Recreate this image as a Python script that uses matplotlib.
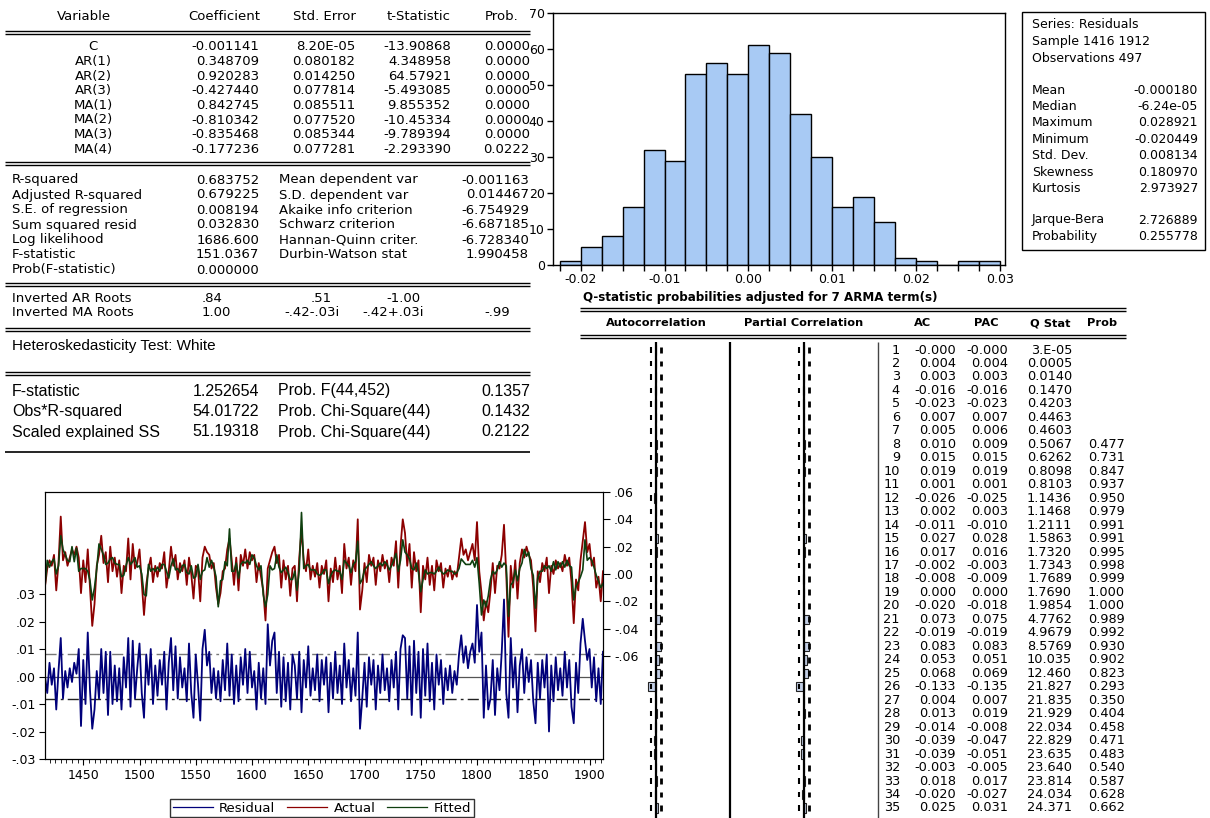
import matplotlib
matplotlib.use("Agg")
import matplotlib.pyplot as plt
import numpy as np
from matplotlib import font_manager
from matplotlib.lines import Line2D
from matplotlib.patches import Rectangle
from matplotlib.ticker import FixedFormatter, FixedLocator, FuncFormatter, MultipleLocator

# ---- ARMA estimation output ----
variables = ["C", "AR(1)", "AR(2)", "AR(3)", "MA(1)", "MA(2)", "MA(3)", "MA(4)"]
coefficients = ["-0.001141", "0.348709", "0.920283", "-0.427440", "0.842745", "-0.810342", "-0.835468", "-0.177236"]
std_errors = ["8.20E-05", "0.080182", "0.014250", "0.077814", "0.085511", "0.077520", "0.085344", "0.077281"]
t_stats = ["-13.90868", "4.348958", "64.57921", "-5.493085", "9.855352", "-10.45334", "-9.789394", "-2.293390"]
coef_probs = ["0.0000", "0.0000", "0.0000", "0.0000", "0.0000", "0.0000", "0.0000", "0.0222"]

fit_labels = ["R-squared", "Adjusted R-squared", "S.E. of regression", "Sum squared resid",
              "Log likelihood", "F-statistic", "Prob(F-statistic)"]
fit_values = ["0.683752", "0.679225", "0.008194", "0.032830", "1686.600", "151.0367", "0.000000"]
dep_labels = ["Mean dependent var", "S.D. dependent var", "Akaike info criterion", "Schwarz criterion",
              "Hannan-Quinn criter.", "Durbin-Watson stat"]
dep_values = ["-0.001163", "0.014467", "-6.754929", "-6.687185", "-6.728340", "1.990458"]
ar_roots = [".84", ".51", "-1.00"]
ma_roots = ["1.00", "-.42-.03i", "-.42+.03i", "-.99"]

# ---- White heteroskedasticity test ----
white_labels = ["F-statistic", "Obs*R-squared", "Scaled explained SS"]
white_values = ["1.252654", "54.01722", "51.19318"]
white_tests = ["Prob. F(44,452)", "Prob. Chi-Square(44)", "Prob. Chi-Square(44)"]
white_probs = ["0.1357", "0.1432", "0.2122"]

# ---- residual histogram ----
bin_left = [-0.0225, -0.02, -0.0175, -0.015, -0.0125, -0.01, -0.0075, -0.005, -0.0025, 0.0, 0.0025,
            0.005, 0.0075, 0.01, 0.0125, 0.015, 0.0175, 0.02, 0.0225, 0.025, 0.0275]
bin_counts = [1, 5, 8, 16, 32, 29, 53, 56, 53, 61, 59, 42, 30, 16, 19, 12, 2, 1, 0, 1, 1]
bin_width = 0.0025
hist_ticks = [-0.02, -0.01, 0.0, 0.01, 0.02, 0.03]
hist_tick_labels = ["-0.02", "-0.01", "0.00", "0.01", "0.02", "0.03"]
stat_labels = ["Mean", "Median", "Maximum", "Minimum", "Std. Dev.", "Skewness", "Kurtosis"]
stat_values = ["-0.000180", "-6.24e-05", "0.028921", "-0.020449", "0.008134", "0.180970", "2.973927"]
jb_labels = ["Jarque-Bera", "Probability"]
jb_values = ["2.726889", "0.255778"]

# ---- residual correlogram ----
n_obs = 497
lags = list(range(1, 36))
ac = [-0.0, 0.004, 0.003, -0.016, -0.023, 0.007, 0.005, 0.010, 0.015, 0.019, 0.001, -0.026, 0.002,
      -0.011, 0.027, 0.017, -0.002, -0.008, 0.000, -0.020, 0.073, -0.019, 0.083, 0.053, 0.068,
      -0.133, 0.004, 0.013, -0.014, -0.039, -0.039, -0.003, 0.018, -0.020, 0.025]
pac = [-0.0, 0.004, 0.003, -0.016, -0.023, 0.007, 0.006, 0.009, 0.015, 0.019, 0.001, -0.025, 0.003,
       -0.010, 0.028, 0.016, -0.003, -0.009, 0.000, -0.018, 0.075, -0.019, 0.083, 0.051, 0.069,
       -0.135, 0.007, 0.019, -0.008, -0.047, -0.051, -0.005, 0.017, -0.027, 0.031]
q_stat = ["3.E-05", "0.0005", "0.0140", "0.1470", "0.4203", "0.4463", "0.4603", "0.5067", "0.6262",
          "0.8098", "0.8103", "1.1436", "1.1468", "1.2111", "1.5863", "1.7320", "1.7343", "1.7689",
          "1.7690", "1.9854", "4.7762", "4.9679", "8.5769", "10.035", "12.460", "21.827", "21.835",
          "21.929", "22.034", "22.829", "23.635", "23.640", "23.814", "24.034", "24.371"]
q_prob = ["", "", "", "", "", "", "", "0.477", "0.731", "0.847", "0.937", "0.950", "0.979", "0.991",
          "0.991", "0.995", "0.998", "0.999", "1.000", "1.000", "0.989", "0.992", "0.930", "0.902",
          "0.823", "0.293", "0.350", "0.404", "0.458", "0.471", "0.483", "0.540", "0.587", "0.628",
          "0.662"]

# ---- actual / fitted / residual, every second year 1416-1912 ----
years = list(range(1416, 1913, 2))
residual = [
    0.000, -0.006, 0.005, -0.003, 0.003, -0.012, 0.002, 0.014, -0.008, 0.002,
    -0.004, 0.003, -0.002, 0.005, 0.001, 0.010, -0.018, 0.006, -0.010, 0.016,
    -0.005, -0.019, -0.012, 0.002, -0.008, 0.010, -0.006, 0.009, -0.014, 0.009,
    -0.010, 0.004, -0.009, 0.003, -0.012, 0.007, -0.004, 0.014, -0.011, 0.013,
    -0.008, 0.003, 0.012, -0.006, -0.015, 0.008, -0.003, 0.010, -0.010, 0.004,
    -0.007, 0.006, -0.003, 0.009, -0.012, 0.005, 0.014, -0.005, 0.011, -0.008,
    0.007, -0.004, 0.003, -0.009, 0.012, -0.006, -0.015, 0.008, -0.003, -0.016,
    0.010, 0.017, 0.004, 0.009, -0.006, 0.003, -0.008, 0.002, -0.009, 0.006,
    -0.005, 0.012, -0.007, 0.008, -0.010, 0.004, -0.009, 0.007, -0.003, 0.010,
    -0.006, 0.009, -0.004, 0.002, -0.012, 0.005, -0.008, 0.003, -0.010, 0.019,
    0.004, 0.013, 0.016, -0.006, 0.009, -0.011, 0.007, -0.009, 0.005, -0.012,
    0.008, 0.004, -0.008, 0.009, -0.013, 0.006, -0.004, 0.011, -0.007, 0.003,
    -0.005, 0.008, -0.009, 0.006, -0.003, 0.007, -0.013, 0.005, -0.008, 0.009,
    -0.006, 0.004, -0.010, 0.012, -0.004, 0.006, -0.009, 0.003, -0.007, 0.016,
    -0.019, -0.008, 0.005, -0.011, 0.007, -0.003, 0.006, -0.012, 0.004, -0.006,
    0.008, -0.005, 0.003, -0.009, 0.006, -0.004, 0.009, -0.012, 0.010, 0.015,
    0.014, -0.008, 0.011, -0.014, 0.013, -0.006, 0.009, -0.015, 0.010, -0.007,
    0.012, -0.009, 0.005, -0.012, 0.008, -0.003, 0.006, -0.010, 0.003, -0.005,
    0.004, -0.006, 0.002, -0.003, 0.008, 0.015, 0.005, 0.011, 0.003, 0.009,
    0.012, 0.005, 0.026, 0.009, 0.016, -0.015, 0.004, -0.012, -0.008, 0.006,
    -0.014, 0.003, -0.005, 0.009, 0.028, -0.006, -0.015, 0.014, -0.004, 0.007,
    -0.013, 0.004, 0.010, -0.006, 0.007, -0.002, 0.006, -0.009, -0.017, 0.005,
    -0.008, 0.006, -0.004, 0.008, -0.020, 0.004, -0.009, 0.007, -0.005, 0.003,
    -0.007, 0.009, -0.004, 0.006, -0.011, -0.017, 0.005, -0.006, 0.012, 0.021,
    0.013, 0.006, 0.010, -0.004, 0.007, -0.009, 0.003, -0.010, 0.009,
]
actual = [
    -0.009, 0.004, 0.010, 0.006, 0.014, -0.012, 0.008, 0.042, 0.010, 0.016,
    0.006, 0.012, 0.018, 0.014, 0.020, 0.012, -0.014, 0.010, -0.006, 0.018,
    -0.010, -0.038, -0.022, 0.006, 0.014, 0.028, 0.008, 0.016, -0.006, 0.020,
    0.002, 0.012, -0.002, 0.010, -0.014, 0.006, 0.002, 0.026, -0.004, 0.022,
    0.004, 0.008, 0.018, -0.006, -0.030, -0.008, 0.004, 0.012, -0.006, 0.006,
    -0.002, 0.008, 0.004, 0.016, -0.010, 0.002, 0.020, 0.006, 0.014, -0.004,
    0.008, 0.002, 0.010, -0.008, 0.012, 0.000, -0.018, 0.006, 0.004, -0.020,
    0.012, 0.020, 0.016, 0.014, 0.004, 0.008, -0.010, -0.022, -0.014, 0.002,
    0.004, 0.018, 0.026, 0.010, -0.008, 0.012, -0.012, 0.014, 0.006, 0.018,
    0.004, 0.016, 0.010, 0.014, -0.006, 0.008, -0.002, -0.012, -0.034, 0.004,
    0.010, 0.016, 0.020, 0.008, 0.014, -0.010, 0.010, -0.004, 0.006, -0.016,
    0.004, 0.006, -0.020, 0.012, 0.032, 0.010, 0.002, 0.018, -0.004, 0.006,
    -0.002, 0.008, -0.010, 0.006, 0.000, 0.010, -0.020, 0.004, -0.006, 0.012,
    -0.004, 0.006, -0.014, 0.022, 0.004, 0.012, -0.008, 0.010, 0.002, 0.040,
    -0.026, -0.012, 0.008, -0.006, 0.014, 0.006, 0.012, -0.008, 0.010, 0.002,
    0.014, 0.004, 0.010, -0.006, 0.012, 0.006, 0.024, -0.010, 0.020, 0.040,
    0.030, 0.006, 0.022, -0.010, 0.016, 0.002, 0.010, -0.028, 0.006, -0.004,
    0.012, -0.008, 0.006, -0.012, 0.010, 0.002, 0.008, -0.010, 0.004, -0.002,
    0.006, -0.004, 0.002, -0.002, 0.012, 0.026, 0.014, 0.018, 0.010, 0.016,
    0.022, 0.010, 0.038, 0.002, -0.014, -0.034, -0.020, -0.028, -0.012, 0.008,
    -0.014, 0.006, 0.004, 0.014, 0.036, 0.000, -0.046, 0.006, -0.010, 0.010,
    -0.018, 0.008, 0.018, 0.012, 0.020, 0.014, 0.010, -0.010, -0.042, 0.002,
    -0.006, 0.008, 0.002, 0.012, -0.014, 0.006, 0.000, 0.010, 0.004, 0.008,
    0.002, 0.014, 0.006, 0.012, -0.006, -0.036, -0.004, -0.012, 0.010, 0.024,
    0.038, 0.016, 0.022, 0.006, 0.012, -0.010, -0.002, -0.020, 0.002,
]

W, H = 1210, 818
installed = {f.name for f in font_manager.fontManager.ttflist}
NARROW = "Liberation Sans Narrow" if "Liberation Sans Narrow" in installed else "Liberation Sans"
TXT = "#000000"


def px_axes(fig, left, top, right, bottom):
    """Axes placed by pixel box (origin top-left)."""
    return fig.add_axes([left / W, 1 - bottom / H, (right - left) / W, (bottom - top) / H])


def double_line(ax, y, x0=5, x1=530):
    ax.hlines([y, y + 3], x0, x1, color="black", lw=1.0)


def draw_tables(ax):
    fs = 9.5
    # coefficient table
    for label, x in zip(["Variable", "Coefficient", "Std. Error", "t-Statistic", "Prob."],
                        [84, 224, 324, 419, 502]):
        ax.text(x, 17, label, ha="center", va="center", fontsize=fs, color=TXT)
    double_line(ax, 31)
    for i, name in enumerate(variables):
        y = 47 + 14.6 * i
        ax.text(93, y, name, ha="center", va="center", fontsize=fs, color=TXT)
        for col, x in zip([coefficients, std_errors, t_stats, coef_probs], [259, 355, 451, 530]):
            ax.text(x, y, col[i], ha="right", va="center", fontsize=fs, color=TXT)
    double_line(ax, 162)

    for i, (label, val) in enumerate(zip(fit_labels, fit_values)):
        y = 180 + 15 * i
        ax.text(12, y, label, ha="left", va="center", fontsize=fs, color=TXT)
        ax.text(259, y, val, ha="right", va="center", fontsize=fs, color=TXT)
    for i, (label, val) in enumerate(zip(dep_labels, dep_values)):
        y = 180 + 15 * i
        ax.text(279, y, label, ha="left", va="center", fontsize=fs, color=TXT)
        ax.text(529, y, val, ha="right", va="center", fontsize=fs, color=TXT)
    double_line(ax, 283)

    ax.text(12, 298, "Inverted AR Roots", ha="left", va="center", fontsize=fs, color=TXT)
    ax.text(12, 313, "Inverted MA Roots", ha="left", va="center", fontsize=fs, color=TXT)
    ax.text(202, 298, ar_roots[0], ha="left", va="center", fontsize=fs, color=TXT)
    for root, x in zip(ar_roots[1:], [321, 403]):
        ax.text(x, 298, root, ha="center", va="center", fontsize=fs, color=TXT)
    ax.text(202, 313, ma_roots[0], ha="left", va="center", fontsize=fs, color=TXT)
    for root, x in zip(ma_roots[1:], [312, 393, 497]):
        ax.text(x, 313, root, ha="center", va="center", fontsize=fs, color=TXT)
    double_line(ax, 328)

    # White test
    ax.text(12, 346, "Heteroskedasticity Test: White", ha="left", va="center",
            fontsize=11, family=NARROW, color=TXT)
    double_line(ax, 372)
    for i in range(3):
        y = 391 + 20.5 * i
        kw = dict(va="center", fontsize=11.5, family=NARROW, color=TXT)
        ax.text(12, y, white_labels[i], ha="left", **kw)
        ax.text(259, y, white_values[i], ha="right", **kw)
        ax.text(278, y, white_tests[i], ha="left", **kw)
        ax.text(530, y, white_probs[i], ha="right", **kw)
    ax.hlines(452, 5, 530, color="black", lw=1.2)


def draw_histogram(fig, ax):
    hx = px_axes(fig, 553, 13, 1005, 265)
    hx.bar(bin_left, bin_counts, width=bin_width, align="edge",
           color="#a8caf4", edgecolor="black", linewidth=1.0)
    hx.set_xlim(-0.0233, 0.0306)
    hx.set_ylim(0, 70)
    hx.xaxis.set_major_locator(FixedLocator(hist_ticks))
    hx.xaxis.set_major_formatter(FixedFormatter(hist_tick_labels))
    hx.xaxis.set_minor_locator(MultipleLocator(bin_width))
    hx.yaxis.set_major_locator(MultipleLocator(10))
    hx.tick_params(direction="out", length=4, width=1, labelsize=9, pad=2)
    hx.tick_params(which="minor", direction="out", length=4, width=1)
    for s in hx.spines.values():
        s.set_linewidth(1.0)

    # descriptive statistics box
    ax.add_patch(Rectangle((1022, 12), 183, 238, fill=False, edgecolor="black", lw=1.0))
    fs = 9
    for i, line in enumerate(["Series: Residuals", "Sample 1416 1912", f"Observations {n_obs}"]):
        ax.text(1032, 25 + 17 * i, line, ha="left", va="center", fontsize=fs, color=TXT)
    for i, (label, val) in enumerate(zip(stat_labels, stat_values)):
        y = 90 + 16.4 * i
        ax.text(1032, y, label, ha="left", va="center", fontsize=fs, color=TXT)
        ax.text(1198, y, val, ha="right", va="center", fontsize=fs, color=TXT)
    for i, (label, val) in enumerate(zip(jb_labels, jb_values)):
        y = 220 + 16.4 * i
        ax.text(1032, y, label, ha="left", va="center", fontsize=fs, color=TXT)
        ax.text(1198, y, val, ha="right", va="center", fontsize=fs, color=TXT)


def draw_correlogram(fig, ax):
    fs = 9.3
    ax.text(583, 297, "Q-statistic probabilities adjusted for 7 ARMA term(s)",
            ha="left", va="center", fontsize=8.6, fontweight="bold", color=TXT)
    double_line(ax, 308, 580, 1126)
    for label, x in zip(["Autocorrelation", "Partial Correlation", "AC", "PAC", "Q Stat", "Prob"],
                        [656, 804, 922, 986, 1050, 1102]):
        ax.text(x, 323, label, ha="center", va="center", fontsize=8.2, fontweight="bold", color=TXT)
    double_line(ax, 335, 580, 1126)

    row_y = [350 + 13.47 * (k - 1) for k in lags]
    for i, y in enumerate(row_y):
        ax.text(900, y, str(lags[i]), ha="right", va="center", fontsize=fs, color=TXT)
        ax.text(956, y, f"{ac[i]:.3f}", ha="right", va="center", fontsize=fs, color=TXT)
        ax.text(1008, y, f"{pac[i]:.3f}", ha="right", va="center", fontsize=fs, color=TXT)
        ax.text(1072, y, q_stat[i], ha="right", va="center", fontsize=fs, color=TXT)
        ax.text(1125, y, q_prob[i], ha="right", va="center", fontsize=fs, color=TXT)

    ax.vlines(730, 342, 818, color="black", lw=1.6)
    ax.vlines(878, 342, 818, color="#444444", lw=1.0)

    # bar columns, 60 px per unit of correlation
    bound = 2 / np.sqrt(n_obs)
    k_top = 1 + (342 - 350) / 13.47
    k_bot = 1 + (818 - 350) / 13.47
    lag_arr = np.array(lags)
    for center, vals in [(656, ac), (804, pac)]:
        cx = px_axes(fig, center - 60, 342, center + 60, 818)
        cx.set_xlim(-1, 1)
        cx.set_ylim(k_bot, k_top)
        cx.axis("off")
        cx.barh(lags, vals, height=0.7, color="#c3cfe6", edgecolor="#222222", linewidth=0.8, zorder=2)
        cx.axvline(0, color="black", lw=1.6, zorder=3)
        cx.vlines([-bound] * len(lags), lag_arr - 0.2, lag_arr + 0.2, color="black", lw=1.5)
        cx.vlines([bound] * len(lags), lag_arr - 0.22, lag_arr + 0.22, color="black", lw=2.0)


def dot_fmt(v, pos):
    s = f"{v:.2f}"
    if s == "-0.00":
        s = "0.00"
    return s.replace("0.", ".")


def draw_series(fig):
    yrs = np.array(years)
    res = np.array(residual)
    act = np.array(actual)
    fitted = act - res
    se = float(fit_values[2])

    ax = px_axes(fig, 45, 492, 603, 759)
    ax.axhline(0, color="#555555", lw=0.9, zorder=1)
    ax.axhline(se, color="#777777", lw=1.0, ls=(0, (8, 3, 2, 3)), zorder=1)
    ax.axhline(-se, color="#222222", lw=1.0, ls=(0, (8, 3, 2, 3)), zorder=1)
    ax.plot(yrs, res, color="#00007a", lw=1.3, zorder=2)
    ax.set_ylim(-0.03, 0.0671)
    ax.set_xlim(1416, 1912)
    ax.set_yticks([-0.03, -0.02, -0.01, 0.0, 0.01, 0.02, 0.03])
    ax.yaxis.set_major_formatter(FuncFormatter(dot_fmt))
    ax.xaxis.set_major_locator(MultipleLocator(50))
    ax.xaxis.set_minor_locator(MultipleLocator(5))
    ax.tick_params(direction="out", length=4, labelsize=9, pad=3)
    ax.tick_params(which="minor", direction="out", length=3)

    ax2 = ax.twinx()
    ax2.plot(yrs, act, color="#8c0000", lw=1.3)
    ax2.plot(yrs, fitted, color="#0f3f0f", lw=1.2)
    ax2.set_ylim(-0.1354, 0.06)
    ax2.set_yticks([-0.06, -0.04, -0.02, 0.0, 0.02, 0.04, 0.06])
    ax2.yaxis.set_major_formatter(FuncFormatter(dot_fmt))
    ax2.tick_params(direction="out", length=5, labelsize=9, pad=3)

    handles = [Line2D([], [], color="#00007a", lw=0.9),
               Line2D([], [], color="#8c0000", lw=0.9),
               Line2D([], [], color="#0f3f0f", lw=0.9)]
    leg = fig.legend(handles, ["Residual", "Actual", "Fitted"], loc="center",
                     bbox_to_anchor=(322 / W, 1 - 808 / H), ncol=3, fontsize=9.5,
                     frameon=True, fancybox=False, edgecolor="black", borderpad=0.2,
                     handlelength=3.0, columnspacing=0.9, handletextpad=0.5)
    leg.get_frame().set_linewidth(1.0)


def main() -> None:
    fig = plt.figure(figsize=(W / 100, H / 100), dpi=100)
    ax = fig.add_axes([0, 0, 1, 1])
    ax.set_xlim(0, W)
    ax.set_ylim(H, 0)
    ax.axis("off")

    draw_tables(ax)
    draw_histogram(fig, ax)
    draw_correlogram(fig, ax)
    draw_series(fig)

    fig.savefig("out.png", dpi=100)


if __name__ == "__main__":
    main()
